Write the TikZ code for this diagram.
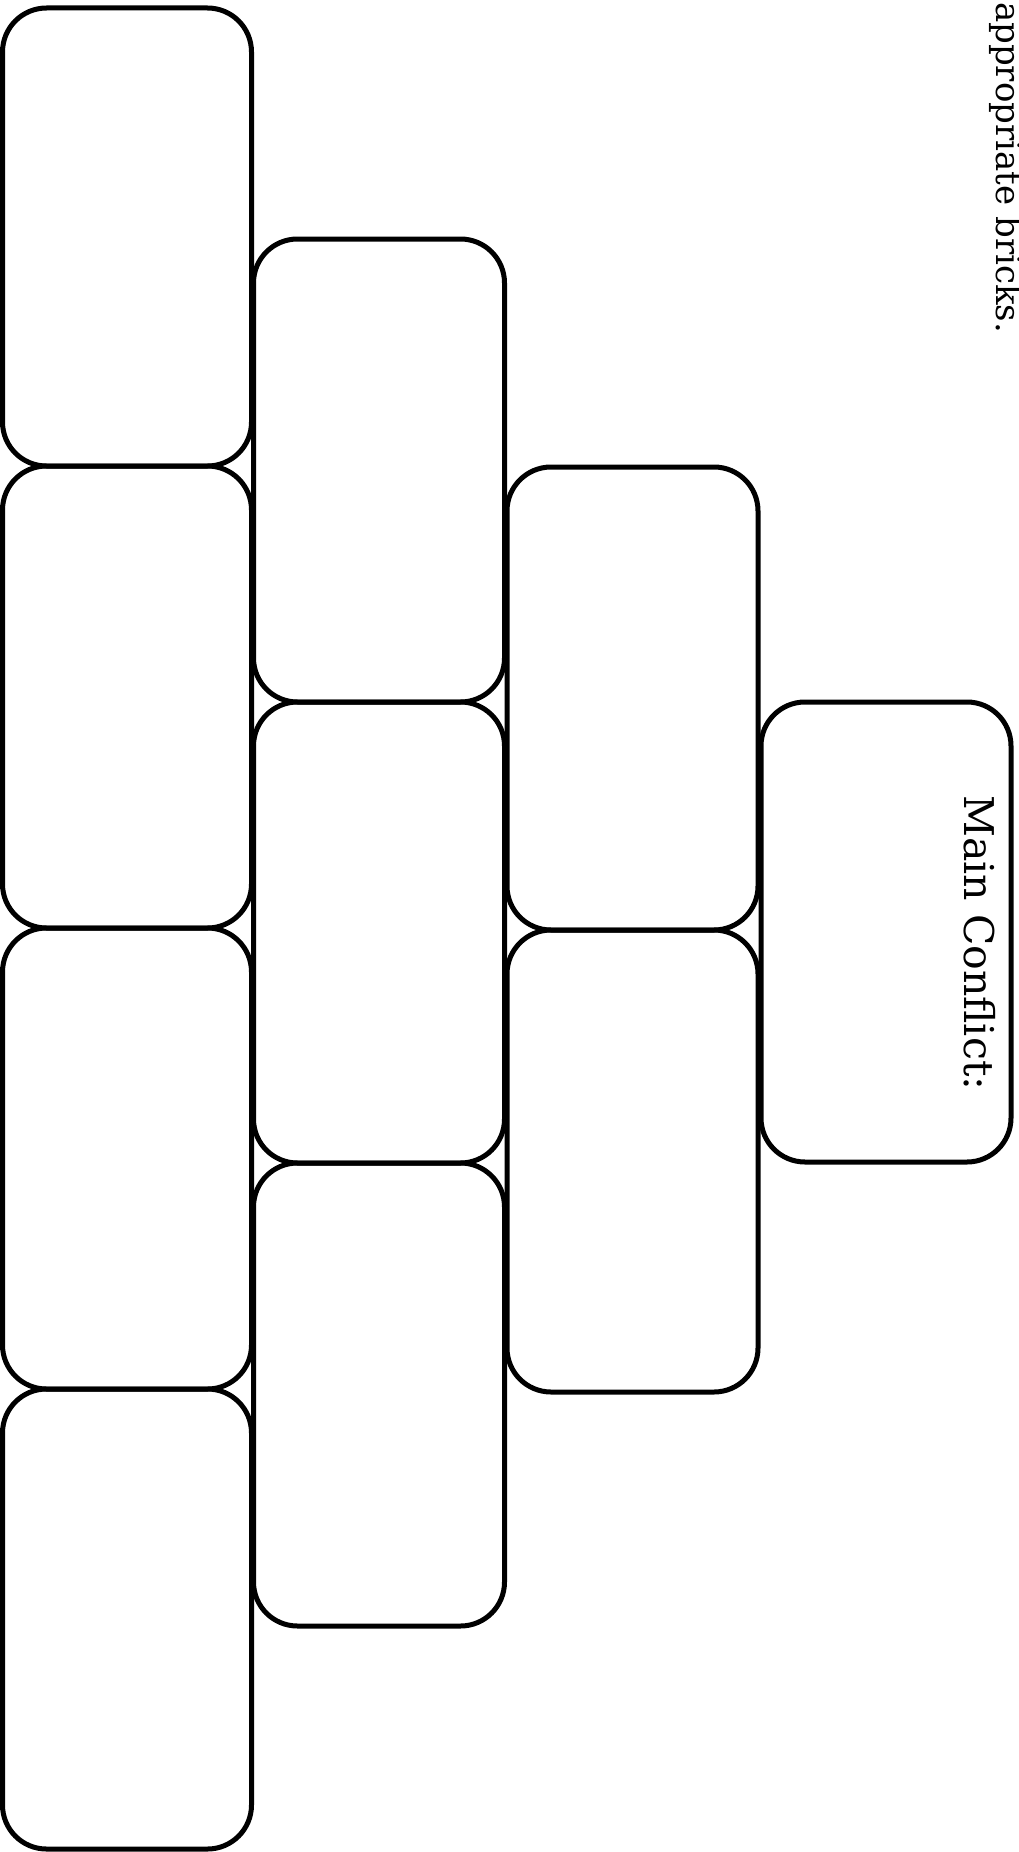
\documentclass[tikz,border=0pt]{standalone}
\usepackage{fontspec}
\setmainfont{DejaVu Serif}
\begin{document}
\begin{tikzpicture}[x=1pt,y=-1pt,
  brick/.style={draw=black, line width=5pt, rounded corners=44pt, fill=none, inner sep=0pt, outer sep=0pt},
  label/.style={rotate=-90, inner sep=0pt}]
\useasboundingbox (0,0) rectangle (1019,1852);
% column 1
\node[brick, minimum width=249pt, minimum height=458pt] (a1) at (127,237) {};
\node[brick, minimum width=249pt, minimum height=462pt] (a2) at (127,697) {};
\node[brick, minimum width=249pt, minimum height=461pt] (a3) at (127,1158.5) {};
\node[brick, minimum width=249pt, minimum height=460pt] (a4) at (127,1619) {};
% column 2
\node[brick, minimum width=251pt, minimum height=463pt] (b1) at (379,470.5) {};
\node[brick, minimum width=251pt, minimum height=461pt] (b2) at (379,932.5) {};
\node[brick, minimum width=251pt, minimum height=463pt] (b3) at (379,1394.5) {};
% column 3
\node[brick, minimum width=251pt, minimum height=463pt] (c1) at (632.5,698.5) {};
\node[brick, minimum width=251pt, minimum height=462pt] (c2) at (632.5,1161) {};
% column 4
\node[brick, minimum width=250pt, minimum height=460pt] (d1) at (886,932) {};
% texts
\node[label, anchor=base west, font=\fontsize{41}{48}\selectfont] (mc) at (964,795) {Main Conflict:};
\node[label, anchor=base west, font=\fontsize{34}{40}\selectfont] (ab) at (996,2) {appropriate bricks.};
\end{tikzpicture}
\end{document}
